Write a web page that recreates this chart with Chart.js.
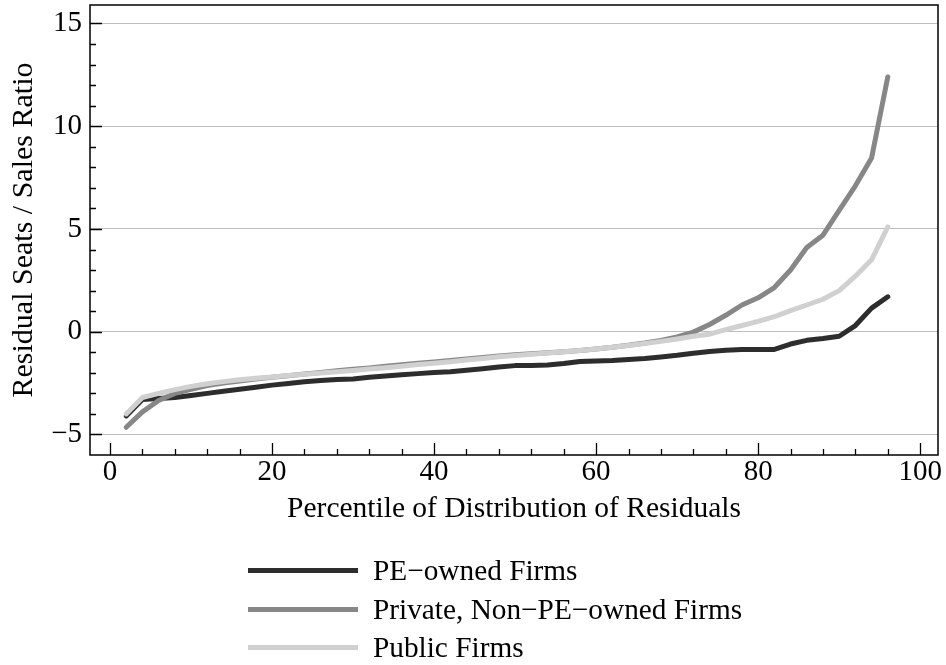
<!DOCTYPE html>
<html>
<head>
<meta charset="utf-8">
<script src="https://cdn.jsdelivr.net/npm/chart.js@4.4.1/dist/chart.umd.min.js"></script>
<style>
  html, body { margin: 0; padding: 0; background: #fff; }
  #wrap { position: relative; width: 946px; height: 665px; }
  canvas { display: block; }
  .key {
    position: absolute; left: 248px; height: 29px; line-height: 29px;
    font-family: "Liberation Serif", "Times New Roman", serif; font-size: 29.3px;
    color: #000; white-space: nowrap;
  }
  .key i { position: absolute; left: 0; top: 12px; width: 110px; height: 5px; }
  .key span { position: absolute; left: 125px; top: 0; }
</style>
</head>
<body>
<div id="wrap">
  <canvas id="chart" width="946" height="665"></canvas>
  <div class="key" style="top:556px"><i style="background:#2d2d2d"></i><span>PE−owned Firms</span></div>
  <div class="key" style="top:595px"><i style="background:#878787"></i><span>Private, Non−PE−owned Firms</span></div>
  <div class="key" style="top:633px"><i style="background:#d0d0d0"></i><span>Public Firms</span></div>
</div>
<script>
// Percentile points of the residual distribution
const percentiles = [2, 4, 6, 8, 10, 12, 14, 16, 18, 20, 22, 24, 26, 28, 30, 32, 34, 36, 38, 40,
                     42, 44, 46, 48, 50, 52, 54, 56, 58, 60, 62, 64, 66, 68, 70, 72, 74, 76, 78, 80,
                     82, 84, 86, 88, 90, 92, 94, 96];

// Residual seats / sales ratio at each percentile
const peOwned = [-4.1, -3.3, -3.25, -3.2, -3.1, -3.0, -2.9, -2.8, -2.7, -2.6, -2.52, -2.44, -2.38, -2.33, -2.3, -2.22,
                 -2.16, -2.1, -2.04, -1.98, -1.95, -1.88, -1.8, -1.72, -1.65, -1.64, -1.62, -1.55, -1.45, -1.42, -1.4, -1.35,
                 -1.3, -1.23, -1.15, -1.05, -0.96, -0.9, -0.87, -0.86, -0.86, -0.6, -0.42, -0.33, -0.22, 0.3, 1.15, 1.7];
const privateNonPE = [-4.65, -3.9, -3.35, -3.0, -2.8, -2.62, -2.5, -2.4, -2.3, -2.22, -2.14, -2.06, -1.98, -1.9, -1.83, -1.76,
                      -1.68, -1.61, -1.54, -1.47, -1.4, -1.33, -1.25, -1.18, -1.12, -1.07, -1.02, -0.97, -0.91, -0.84, -0.76, -0.66,
                      -0.55, -0.42, -0.25, -0.02, 0.35, 0.8, 1.3, 1.65, 2.15, 3.0, 4.1, 4.7, 5.9, 7.1, 8.45, 12.4];
const publicFirms = [-4.0, -3.2, -3.0, -2.82, -2.66, -2.53, -2.43, -2.34, -2.26, -2.2, -2.13, -2.07, -2.01, -1.95, -1.89, -1.82,
                     -1.75, -1.68, -1.6, -1.53, -1.46, -1.38, -1.3, -1.22, -1.16, -1.1, -1.04, -0.98, -0.91, -0.84, -0.76, -0.67,
                     -0.57, -0.47, -0.35, -0.22, -0.12, 0.1, 0.3, 0.5, 0.73, 1.03, 1.3, 1.58, 2.0, 2.7, 3.5, 5.1];

// Axis ticks
const xMajorTicks = [0, 20, 40, 60, 80, 100];
const xMinorTicks = [4, 8, 12, 16, 24, 28, 32, 36, 44, 48, 52, 56, 64, 68, 72, 76, 84, 88, 92, 96];
const yMajorTicks = [-5, 0, 5, 10, 15];
const yMinorTicks = [-4, -3, -2, -1, 1, 2, 3, 4, 6, 7, 8, 9, 11, 12, 13, 14];

const serif = '"Liberation Serif", "Times New Roman", serif';

const points = vals => percentiles.map((p, i) => ({ x: p, y: vals[i] }));

// Inward tick marks and the closed box around the plotting region
const axisFrame = {
  id: 'axisFrame',
  afterDraw(chart) {
    const { ctx, chartArea: a, scales: { x, y } } = chart;
    ctx.save();
    ctx.strokeStyle = '#000';
    ctx.lineWidth = 1.3;
    ctx.beginPath();
    const vTick = (v, len) => {
      const px = Math.round(x.getPixelForValue(v)) + 0.5;
      ctx.moveTo(px, a.bottom); ctx.lineTo(px, a.bottom - len);
    };
    const hTick = (v, len) => {
      const py = Math.round(y.getPixelForValue(v)) + 0.5;
      ctx.moveTo(a.left, py); ctx.lineTo(a.left + len, py);
    };
    xMajorTicks.forEach(v => vTick(v, 12));
    xMinorTicks.forEach(v => vTick(v, 6));
    yMajorTicks.forEach(v => hTick(v, 12));
    yMinorTicks.forEach(v => hTick(v, 6));
    ctx.stroke();
    ctx.lineWidth = 1.5;
    ctx.strokeRect(a.left, a.top, a.right - a.left, a.bottom - a.top);
    ctx.restore();
  }
};

new Chart(document.getElementById('chart'), {
  type: 'line',
  data: {
    datasets: [
      { label: 'PE−owned Firms', data: points(peOwned), borderColor: '#2d2d2d', order: 2 },
      { label: 'Private, Non−PE−owned Firms', data: points(privateNonPE), borderColor: '#878787', order: 1 },
      { label: 'Public Firms', data: points(publicFirms), borderColor: '#d0d0d0', order: 0 }
    ]
  },
  options: {
    responsive: false,
    animation: false,
    layout: { padding: { left: 0, right: 8, top: 5, bottom: 135 } },
    plugins: { legend: { display: false }, tooltip: { enabled: false } },
    elements: {
      point: { radius: 0 },
      line: { borderWidth: 5, borderCapStyle: 'round', borderJoinStyle: 'round', tension: 0, fill: false }
    },
    scales: {
      x: {
        type: 'linear', min: -2.47, max: 102.2,
        afterBuildTicks: s => { s.ticks = xMajorTicks.map(v => ({ value: v })); },
        afterFit: s => { s.height = 75; s.paddingLeft = 0; s.paddingRight = 0; },
        grid: { display: false, drawTicks: false },
        border: { display: false },
        ticks: { font: { family: serif, size: 29 }, color: '#000', padding: 0, maxRotation: 0, autoSkip: false },
        title: { display: true, text: 'Percentile of Distribution of Residuals', color: '#000',
                 font: { family: serif, size: 29.5 }, padding: { top: 0, bottom: 3 } }
      },
      y: {
        type: 'linear', min: -6, max: 15.9,
        afterBuildTicks: s => { s.ticks = yMajorTicks.map(v => ({ value: v })); },
        afterFit: s => { s.width = 90; s.paddingTop = 0; s.paddingBottom = 0; },
        grid: { color: '#bebebe', lineWidth: 1, drawTicks: false },
        border: { display: false },
        ticks: { font: { family: serif, size: 29 }, color: '#000', padding: 8,
                 callback: v => String(v).replace('-', '\u2212') },
        title: { display: true, text: 'Residual Seats / Sales Ratio', color: '#000',
                 font: { family: serif, size: 30 }, padding: { top: 6, bottom: 0 } }
      }
    }
  },
  plugins: [axisFrame]
});
</script>
</body>
</html>
